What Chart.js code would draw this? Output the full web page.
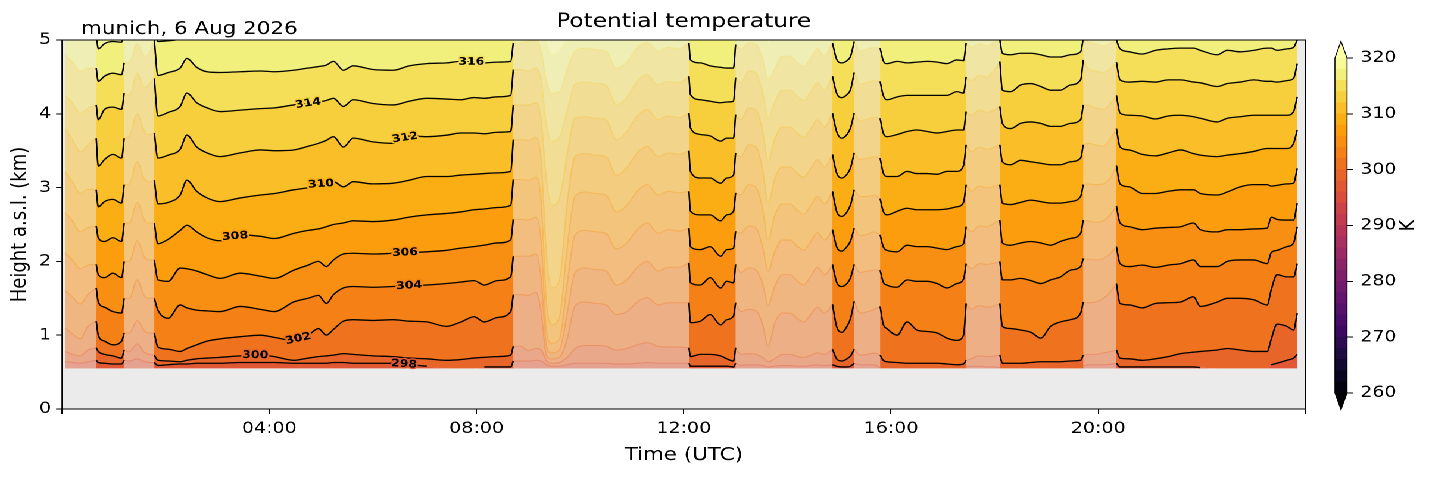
<!DOCTYPE html>
<html>
<head>
<meta charset="utf-8">
<script src="https://cdn.jsdelivr.net/npm/chart.js@4.4.0/dist/chart.umd.min.js"></script>
<style>
  html, body { margin: 0; padding: 0; background: #fff; overflow: hidden; }
  #stretch { position: relative; width: 1200px; height: 478px; transform: scaleX(1.190833); transform-origin: 0 0; }
  #main { position: absolute; left: 0; top: 0; }
  #cbar { position: absolute; left: 1110px; top: 0; }
</style>
</head>
<body>
<div id="stretch">
  <canvas id="main" width="1200" height="478"></canvas>
  <canvas id="cbar" width="100" height="478"></canvas>
</div>
<script>
// time of each profile (hours UTC)
let times = [
  0.06, 0.2, 0.35, 0.5,
  0.66, 0.70, 0.82, 0.98, 1.15, 1.2,
  1.3, 1.45, 1.6, 1.7,
  1.78, 1.85, 2.05, 2.28, 2.41, 2.6, 2.8, 3.05, 3.44, 3.83, 4.1, 4.47, 4.75, 4.95, 5.1, 5.24, 5.43, 5.62, 6.0, 6.39, 6.7, 7.04, 7.42, 7.7, 7.95, 8.15, 8.4, 8.66, 8.71,
  8.85, 9.0, 9.15, 9.25, 9.35, 9.45, 9.6, 9.75, 9.9, 10.1, 10.3, 10.5, 10.7, 10.9, 11.1, 11.3, 11.5, 11.7, 11.9,
  12.1, 12.13, 12.32, 12.51, 12.71, 12.83, 12.96, 13.0,
  13.1, 13.25, 13.4, 13.52, 13.63, 13.75, 13.9, 14.05, 14.2, 14.32, 14.45, 14.58, 14.72,
  14.87, 14.95, 15.05, 15.15, 15.22, 15.29,
  15.4, 15.55, 15.68,
  15.79, 15.85, 15.92, 16.12, 16.31, 16.5, 16.7, 16.89, 17.08, 17.27, 17.4, 17.45,
  17.55, 17.7, 17.85, 18.0,
  18.1, 18.15, 18.31, 18.5, 18.7, 18.89, 19.08, 19.27, 19.46, 19.66, 19.71,
  19.8, 19.95, 20.1, 20.25,
  20.35, 20.42, 20.6, 20.85, 21.1, 21.35, 21.59, 21.84, 21.97, 22.3, 22.49, 22.74, 23.0, 23.26, 23.34, 23.45, 23.64, 23.77, 23.84
];

// height (km) of each isentrope at those times
let h298 = [
  0.64, 0.63, 0.62, 0.64,
  0.66, 0.63, 0.62, 0.61, 0.61, 0.66,
  0.65, 0.68, 0.64, 0.63,
  0.63, 0.59, 0.60, 0.61, 0.61, 0.62, 0.62, 0.62, 0.63, 0.63, 0.63, 0.62, 0.62, 0.62, 0.62, 0.63, 0.63, 0.62, 0.62, 0.62, 0.60, 0.58, 0.55, 0.55, 0.55, 0.57, 0.57, 0.57, 0.65,
  0.65, 0.65, 0.66, 0.65, 0.60, 0.58, 0.58, 0.60, 0.62, 0.62, 0.62, 0.62, 0.61, 0.61, 0.62, 0.63, 0.62, 0.62, 0.62,
  0.62, 0.58, 0.58, 0.58, 0.58, 0.58, 0.57, 0.62,
  0.59, 0.60, 0.60, 0.59, 0.57, 0.58, 0.59, 0.59, 0.58, 0.58, 0.59, 0.60, 0.59,
  0.60, 0.58, 0.57, 0.57, 0.58, 0.62,
  0.60, 0.60, 0.60,
  0.56, 0.55, 0.55, 0.55, 0.55, 0.55, 0.55, 0.55, 0.55, 0.55, 0.55, 0.57,
  0.58, 0.58, 0.57, 0.57,
  0.56, 0.55, 0.55, 0.55, 0.55, 0.55, 0.55, 0.55, 0.55, 0.55, 0.58,
  0.60, 0.60, 0.60, 0.61,
  0.62, 0.57, 0.57, 0.57, 0.57, 0.57, 0.57, 0.57, 0.56, 0.55, 0.55, 0.55, 0.55, 0.55, 0.60, 0.62, 0.66, 0.69, 0.74
];
let h300 = [
  0.78, 0.74, 0.72, 0.80,
  0.83, 0.78, 0.74, 0.72, 0.69, 0.80,
  0.78, 0.88, 0.76, 0.74,
  0.73, 0.66, 0.65, 0.64, 0.66, 0.68, 0.69, 0.70, 0.72, 0.73, 0.71, 0.66, 0.69, 0.71, 0.72, 0.73, 0.75, 0.74, 0.72, 0.71, 0.69, 0.68, 0.66, 0.67, 0.69, 0.70, 0.71, 0.73, 0.85,
  0.85, 0.79, 0.82, 0.80, 0.65, 0.62, 0.63, 0.70, 0.82, 0.86, 0.86, 0.85, 0.80, 0.82, 0.87, 0.90, 0.85, 0.84, 0.84,
  0.83, 0.71, 0.74, 0.74, 0.72, 0.68, 0.65, 0.83,
  0.74, 0.75, 0.74, 0.70, 0.64, 0.68, 0.74, 0.74, 0.71, 0.70, 0.73, 0.76, 0.74,
  0.81, 0.68, 0.65, 0.68, 0.72, 0.81,
  0.73, 0.74, 0.76,
  0.73, 0.66, 0.64, 0.63, 0.62, 0.62, 0.62, 0.62, 0.61, 0.60, 0.61, 0.66,
  0.68, 0.72, 0.71, 0.72,
  0.73, 0.62, 0.62, 0.62, 0.63, 0.64, 0.64, 0.64, 0.65, 0.66, 0.73,
  0.74, 0.74, 0.76, 0.78,
  0.80, 0.69, 0.68, 0.66, 0.68, 0.71, 0.75, 0.77, 0.78, 0.80, 0.82, 0.80, 0.78, 0.78, 0.95, 1.15, 1.12, 1.07, 1.30
];
let h302 = [
  1.10, 1.02, 0.95, 1.12,
  1.19, 1.00, 0.92, 0.87, 0.92, 1.03,
  1.03, 1.20, 1.05, 1.03,
  1.03, 0.84, 0.81, 0.78, 0.82, 0.87, 0.92, 0.95, 0.98, 1.00, 0.97, 0.93, 1.00, 1.09, 1.00, 1.08, 1.19, 1.21, 1.20, 1.21, 1.19, 1.18, 1.12, 1.18, 1.25, 1.18, 1.24, 1.32, 1.55,
  1.55, 1.54, 1.58, 1.30, 0.72, 0.68, 0.70, 0.95, 1.40, 1.45, 1.43, 1.41, 1.28, 1.32, 1.45, 1.51, 1.41, 1.44, 1.44,
  1.44, 1.17, 1.19, 1.28, 1.14, 1.21, 1.26, 1.44,
  1.32, 1.35, 1.33, 1.15, 0.85, 1.15, 1.30, 1.30, 1.22, 1.18, 1.28, 1.38, 1.30,
  1.42, 1.12, 1.04, 1.12, 1.23, 1.46,
  1.30, 1.32, 1.35,
  1.39, 1.15, 1.09, 1.00, 1.18, 1.07, 1.05, 1.03, 0.96, 0.93, 1.00, 1.43,
  1.35, 1.40, 1.38, 1.40,
  1.43, 1.12, 1.09, 1.07, 1.04, 0.96, 1.12, 1.18, 1.21, 1.30, 1.45,
  1.44, 1.45, 1.50, 1.60,
  1.70, 1.43, 1.41, 1.37, 1.43, 1.44, 1.45, 1.52, 1.39, 1.45, 1.50, 1.50, 1.48, 1.41, 1.62, 1.82, 1.79, 1.79, 1.97
];
let h304 = [
  1.60, 1.52, 1.42, 1.55,
  1.64, 1.45, 1.38, 1.32, 1.30, 1.50,
  1.50, 1.75, 1.52, 1.50,
  1.50, 1.34, 1.23, 1.41, 1.37, 1.34, 1.33, 1.32, 1.39, 1.35, 1.32, 1.45, 1.50, 1.54, 1.43, 1.55, 1.64, 1.66, 1.65, 1.66, 1.67, 1.68, 1.70, 1.72, 1.74, 1.68, 1.74, 1.79, 2.07,
  2.07, 2.07, 2.10, 1.75, 0.85, 0.76, 0.80, 1.30, 1.85, 1.91, 1.89, 1.87, 1.68, 1.75, 1.92, 2.00, 1.87, 1.92, 1.92,
  1.98, 1.71, 1.68, 1.78, 1.64, 1.73, 1.71, 1.96,
  1.85, 1.91, 1.88, 1.70, 1.41, 1.65, 1.82, 1.82, 1.73, 1.68, 1.80, 1.92, 1.82,
  1.96, 1.72, 1.66, 1.70, 1.78, 1.96,
  1.85, 1.87, 1.88,
  1.88, 1.72, 1.68, 1.65, 1.75, 1.73, 1.73, 1.70, 1.64, 1.70, 1.76, 1.97,
  1.90, 1.97, 1.96, 1.98,
  2.00, 1.75, 1.75, 1.77, 1.74, 1.70, 1.75, 1.79, 1.88, 1.93, 2.04,
  2.03, 2.02, 2.04, 2.12,
  2.20, 1.97, 1.93, 1.95, 1.92, 1.95, 1.97, 2.02, 1.93, 1.93, 2.00, 2.02, 2.02, 1.97, 2.12, 2.15, 2.20, 2.25, 2.47
];
let h306 = [
  2.12, 2.02, 1.90, 1.95,
  1.96, 1.82, 1.78, 1.84, 1.78, 2.00,
  2.00, 2.28, 2.05, 2.02,
  2.02, 1.75, 1.73, 1.91, 1.90, 1.87, 1.82, 1.77, 1.84, 1.80, 1.77, 1.88, 1.95, 2.00, 1.93, 2.02, 2.10, 2.11, 2.10, 2.11, 2.12, 2.13, 2.15, 2.18, 2.20, 2.22, 2.25, 2.29, 2.57,
  2.57, 2.56, 2.60, 2.25, 1.05, 0.89, 0.95, 1.70, 2.36, 2.42, 2.40, 2.38, 2.17, 2.25, 2.43, 2.52, 2.38, 2.43, 2.41,
  2.45, 2.20, 2.16, 2.20, 2.07, 2.16, 2.18, 2.41,
  2.38, 2.48, 2.45, 2.20, 1.87, 2.12, 2.29, 2.29, 2.20, 2.15, 2.27, 2.39, 2.29,
  2.43, 2.20, 2.14, 2.20, 2.28, 2.45,
  2.35, 2.37, 2.40,
  2.36, 2.20, 2.15, 2.13, 2.22, 2.20, 2.20, 2.18, 2.16, 2.20, 2.24, 2.47,
  2.40, 2.48, 2.47, 2.52,
  2.56, 2.25, 2.22, 2.25, 2.27, 2.25, 2.22, 2.27, 2.31, 2.38, 2.56,
  2.55, 2.53, 2.55, 2.65,
  2.75, 2.52, 2.47, 2.43, 2.45, 2.46, 2.47, 2.52, 2.43, 2.40, 2.43, 2.43, 2.44, 2.45, 2.60, 2.57, 2.56, 2.56, 2.79
];
let h308 = [
  2.66, 2.55, 2.40, 2.46,
  2.48, 2.32, 2.27, 2.32, 2.27, 2.52,
  2.52, 2.80, 2.55, 2.52,
  2.52, 2.24, 2.30, 2.42, 2.49, 2.40, 2.32, 2.28, 2.36, 2.34, 2.31, 2.38, 2.42, 2.44, 2.47, 2.50, 2.52, 2.55, 2.54, 2.56, 2.60, 2.63, 2.65, 2.67, 2.70, 2.71, 2.73, 2.76, 3.11,
  3.11, 3.10, 3.14, 2.80, 1.45, 1.14, 1.25, 2.20, 2.88, 2.94, 2.92, 2.90, 2.67, 2.76, 2.95, 3.04, 2.90, 2.95, 2.93,
  2.95, 2.68, 2.63, 2.63, 2.55, 2.63, 2.68, 2.93,
  2.90, 3.04, 3.00, 2.72, 2.29, 2.61, 2.78, 2.78, 2.69, 2.64, 2.76, 2.88, 2.78,
  2.95, 2.68, 2.61, 2.67, 2.77, 2.97,
  2.88, 2.88, 2.90,
  2.85, 2.68, 2.63, 2.68, 2.72, 2.70, 2.70, 2.70, 2.71, 2.74, 2.80, 3.04,
  2.95, 3.02, 3.00, 3.02,
  3.04, 2.79, 2.77, 2.80, 2.83, 2.81, 2.79, 2.79, 2.81, 2.88, 3.04,
  3.05, 3.04, 3.05, 3.15,
  3.30, 3.05, 3.01, 2.92, 2.92, 2.95, 2.97, 2.97, 2.92, 2.90, 2.94, 3.01, 3.04, 3.04, 3.02, 3.03, 3.05, 3.06, 3.26
];
let h310 = [
  3.22, 3.08, 2.92, 2.98,
  2.97, 2.74, 2.81, 2.84, 2.79, 3.04,
  3.05, 3.35, 3.10, 3.08,
  3.10, 2.78, 2.80, 2.90, 3.10, 2.95, 2.86, 2.81, 2.86, 2.90, 2.92, 2.97, 3.00, 3.04, 3.06, 3.08, 3.01, 3.08, 3.05, 3.06, 3.10, 3.15, 3.15, 3.17, 3.18, 3.19, 3.20, 3.22, 3.65,
  3.65, 3.64, 3.68, 3.35, 2.10, 1.64, 1.75, 2.80, 3.42, 3.46, 3.44, 3.42, 3.17, 3.27, 3.47, 3.56, 3.42, 3.47, 3.45,
  3.50, 3.22, 3.13, 3.13, 3.06, 3.13, 3.17, 3.47,
  3.42, 3.58, 3.55, 3.25, 2.79, 3.11, 3.28, 3.28, 3.19, 3.14, 3.26, 3.38, 3.28,
  3.45, 3.20, 3.13, 3.18, 3.27, 3.47,
  3.38, 3.40, 3.42,
  3.40, 3.20, 3.15, 3.15, 3.22, 3.19, 3.19, 3.18, 3.22, 3.22, 3.30, 3.58,
  3.48, 3.55, 3.52, 3.55,
  3.58, 3.35, 3.31, 3.37, 3.35, 3.33, 3.31, 3.31, 3.35, 3.40, 3.58,
  3.60, 3.58, 3.56, 3.68,
  3.80, 3.55, 3.51, 3.45, 3.43, 3.47, 3.51, 3.46, 3.44, 3.42, 3.44, 3.46, 3.49, 3.53, 3.53, 3.53, 3.53, 3.60, 3.78
];
let h312 = [
  3.80, 3.65, 3.48, 3.58,
  3.67, 3.29, 3.38, 3.45, 3.40, 3.67,
  3.70, 4.00, 3.75, 3.72,
  3.74, 3.40, 3.44, 3.52, 3.71, 3.55, 3.47, 3.42, 3.47, 3.51, 3.50, 3.51, 3.56, 3.60, 3.64, 3.69, 3.55, 3.67, 3.62, 3.60, 3.70, 3.69, 3.71, 3.74, 3.74, 3.73, 3.75, 3.76, 4.12,
  4.12, 4.12, 4.15, 3.90, 3.10, 2.76, 2.85, 3.45, 3.94, 3.96, 3.94, 3.92, 3.65, 3.76, 3.97, 4.06, 3.92, 3.97, 3.95,
  4.01, 3.81, 3.72, 3.70, 3.63, 3.67, 3.67, 3.99,
  3.92, 4.08, 4.05, 3.78, 3.36, 3.65, 3.82, 3.82, 3.73, 3.68, 3.80, 3.92, 3.82,
  4.01, 3.76, 3.67, 3.72, 3.81, 4.01,
  3.90, 3.93, 3.95,
  3.94, 3.74, 3.69, 3.72, 3.76, 3.78, 3.76, 3.74, 3.76, 3.78, 3.78, 4.03,
  3.98, 4.05, 4.02, 4.06,
  4.10, 3.87, 3.80, 3.87, 3.89, 3.87, 3.83, 3.83, 3.87, 3.92, 4.12,
  4.12, 4.08, 4.06, 4.15,
  4.25, 4.01, 3.98, 3.97, 3.93, 3.97, 3.98, 3.96, 3.94, 3.89, 3.94, 3.96, 3.98, 3.98, 3.98, 3.98, 3.98, 4.03, 4.23
];
let h314 = [
  4.25, 4.15, 4.00, 4.08,
  4.12, 3.92, 4.06, 4.09, 4.06, 4.28,
  4.25, 4.55, 4.35, 4.42,
  4.48, 3.97, 4.02, 4.10, 4.28, 4.15, 4.08, 4.03, 4.05, 4.07, 4.08, 4.12, 4.14, 4.16, 4.18, 4.21, 4.10, 4.19, 4.14, 4.12, 4.17, 4.21, 4.20, 4.19, 4.22, 4.21, 4.23, 4.25, 4.60,
  4.60, 4.58, 4.62, 4.45, 3.85, 3.63, 3.68, 4.05, 4.40, 4.43, 4.41, 4.39, 4.12, 4.22, 4.44, 4.53, 4.39, 4.44, 4.42,
  4.51, 4.26, 4.19, 4.17, 4.15, 4.16, 4.17, 4.49,
  4.42, 4.58, 4.55, 4.30, 3.94, 4.15, 4.32, 4.32, 4.23, 4.18, 4.30, 4.42, 4.32,
  4.51, 4.28, 4.22, 4.26, 4.33, 4.56,
  4.40, 4.43, 4.45,
  4.44, 4.25, 4.19, 4.23, 4.25, 4.25, 4.25, 4.25, 4.25, 4.30, 4.28, 4.50,
  4.45, 4.52, 4.50, 4.60,
  4.71, 4.32, 4.30, 4.39, 4.41, 4.37, 4.32, 4.32, 4.39, 4.46, 4.73,
  4.62, 4.58, 4.56, 4.62,
  4.70, 4.46, 4.43, 4.44, 4.43, 4.46, 4.46, 4.43, 4.42, 4.37, 4.41, 4.43, 4.46, 4.44, 4.44, 4.43, 4.45, 4.48, 4.68
];
let h316 = [
  4.80, 4.70, 4.58, 4.62,
  4.62, 4.44, 4.51, 4.55, 4.53, 4.69,
  4.70, 4.95, 4.78, 4.85,
  5.00, 4.52, 4.56, 4.62, 4.75, 4.63, 4.57, 4.56, 4.57, 4.58, 4.57, 4.59, 4.62, 4.64, 4.66, 4.71, 4.59, 4.65, 4.60, 4.59, 4.65, 4.68, 4.69, 4.71, 4.70, 4.69, 4.70, 4.71, 4.96,
  4.96, 4.99, 5.00, 4.85, 4.45, 4.28, 4.30, 4.60, 4.85, 4.89, 4.87, 4.85, 4.62, 4.70, 4.90, 4.97, 4.85, 4.90, 4.88,
  4.96, 4.73, 4.69, 4.65, 4.63, 4.62, 4.62, 4.94,
  4.88, 4.96, 4.94, 4.75, 4.46, 4.60, 4.78, 4.78, 4.69, 4.64, 4.76, 4.88, 4.78,
  4.96, 4.74, 4.69, 4.72, 4.78, 4.98,
  4.85, 4.88, 4.90,
  4.89, 4.72, 4.68, 4.71, 4.69, 4.70, 4.71, 4.70, 4.68, 4.73, 4.72, 4.96,
  4.90, 4.95, 4.92, 4.97,
  5.00, 4.82, 4.80, 4.82, 4.82, 4.80, 4.77, 4.77, 4.80, 4.84, 5.02,
  4.98, 4.95, 4.92, 4.96,
  5.00, 4.88, 4.84, 4.81, 4.86, 4.88, 4.89, 4.89, 4.86, 4.80, 4.86, 4.84, 4.86, 4.89, 4.89, 4.86, 4.88, 4.90, 5.00
];
let h318 = [
  5.10, 5.05, 5.00, 5.05,
  5.10, 4.88, 4.95, 4.98, 4.97, 5.10,
  5.10, 5.30, 5.15, 5.15,
  5.20, 4.98, 4.99, 5.02, 5.15, 5.10, 5.10, 5.12, 5.15, 5.15, 5.15, 5.15, 5.15, 5.15, 5.18, 5.20, 5.15, 5.18, 5.15, 5.15, 5.18, 5.20, 5.20, 5.22, 5.22, 5.22, 5.22, 5.22, 5.30,
  5.25, 5.30, 5.30, 5.20, 4.95, 4.80, 4.85, 5.00, 5.15, 5.20, 5.20, 5.15, 5.05, 5.10, 5.20, 5.25, 5.15, 5.20, 5.20,
  5.30, 5.15, 5.15, 5.15, 5.15, 5.15, 5.15, 5.30,
  5.30, 5.40, 5.40, 5.20, 4.95, 5.05, 5.20, 5.20, 5.15, 5.10, 5.20, 5.30, 5.20,
  5.30, 5.10, 5.05, 5.10, 5.15, 5.30,
  5.30, 5.30, 5.30,
  5.30, 5.20, 5.20, 5.20, 5.20, 5.20, 5.20, 5.20, 5.20, 5.20, 5.20, 5.30,
  5.30, 5.30, 5.30, 5.30,
  5.30, 5.25, 5.25, 5.25, 5.25, 5.25, 5.25, 5.25, 5.25, 5.25, 5.30,
  5.30, 5.30, 5.30, 5.30,
  5.30, 5.25, 5.25, 5.25, 5.25, 5.25, 5.25, 5.25, 5.25, 5.25, 5.25, 5.25, 5.25, 5.25, 5.25, 5.25, 5.25, 5.25, 5.30
];

let levels = [298, 300, 302, 304, 306, 308, 310, 312, 314, 316, 318];
let levelHeights = [h298, h300, h302, h304, h306, h308, h310, h312, h314, h316, h318];

// low quality periods, shown faded
let maskedSpans = [[0, 0.66], [1.2, 1.78], [8.71, 12.1], [13.0, 14.87], [15.29, 15.79], [17.45, 18.1], [19.71, 20.35]];
let dataBottom = 0.55;

let timeTicks = [0, 4, 8, 12, 16, 20, 24];
let timeTickLabels = ['', '04:00', '08:00', '12:00', '16:00', '20:00', ''];
let heightTicks = [0, 1, 2, 3, 4, 5];

let labelLevels = [316, 314, 312, 310, 308, 306, 304, 302, 300, 298];
let labelTimes = [7.9, 4.75, 6.62, 5.0, 3.34, 6.62, 6.7, 4.56, 3.73, 6.6];

let cbarLevels = [260, 262, 264, 266, 268, 270, 272, 274, 276, 278, 280, 282, 284, 286, 288, 290,
                  292, 294, 296, 298, 300, 302, 304, 306, 308, 310, 312, 314, 316, 318, 320];
let cbarTicks = [260, 270, 280, 290, 300, 310, 320];

levelHeights.forEach((arr, i) => {
    if (arr.length !== times.length) throw new Error('level ' + levels[i] + ' has ' + arr.length + ' values, expected ' + times.length);
});

Chart.defaults.font.family = "'DejaVu Sans', sans-serif";
Chart.defaults.color = '#000';

// inferno colour map, as [position, colour]
let infernoStops = [
    [0.0, '#000004'], [0.1, '#160b39'], [0.2, '#420a68'], [0.3, '#6a176e'], [0.4, '#932667'],
    [0.5, '#bc3754'], [0.6, '#dd513a'], [0.7, '#f37819'], [0.8, '#fca50a'], [0.9, '#f6d746'],
    [0.95, '#f2f07c'], [1.0, '#fcffa4']
];

function hexToRgb(hex) {
    return [1, 3, 5].map(i => parseInt(hex.substr(i, 2), 16));
}

function inferno(f) {
    f = Math.min(1, Math.max(0, f));
    let i = 0;
    while (i < infernoStops.length - 2 && f > infernoStops[i + 1][0]) i++;
    let [p0, c0] = infernoStops[i];
    let [p1, c1] = infernoStops[i + 1];
    let a = hexToRgb(c0), b = hexToRgb(c1);
    let k = (f - p0) / (p1 - p0);
    return [0, 1, 2].map(j => Math.round(a[j] + (b[j] - a[j]) * k));
}

function bandColor(lo, hi, alpha) {
    let c = inferno(((lo + hi) / 2 - 260) / 60);
    if (alpha === undefined) return 'rgb(' + c.join(',') + ')';
    return 'rgba(' + c.join(',') + ',' + alpha + ')';
}

function insideMask(t) {
    return maskedSpans.some(s => t > s[0] && t < s[1]);
}

function onMask(t) {
    return maskedSpans.some(s => t >= s[0] && t <= s[1]);
}

function heightAt(arr, t) {
    for (let i = 1; i < times.length; i++) {
        if (times[i] >= t) {
            let k = (t - times[i - 1]) / (times[i] - times[i - 1]);
            return arr[i - 1] + (arr[i] - arr[i - 1]) * k;
        }
    }
    return arr[arr.length - 1];
}

let datasets = [];

// filled bands between isentropes
for (let i = 0; i < levels.length; i++) {
    datasets.push({
        data: times.map((t, j) => ({ x: t, y: levelHeights[i][j] })),
        fill: i == 0 ? { value: dataBottom } : '-1',
        backgroundColor: bandColor(levels[i] - 2, levels[i]),
        borderWidth: 0,
        order: 3
    });
}
datasets.push({
    data: times.map((t, j) => ({ x: t, y: h318[j] })),
    fill: 'end',
    backgroundColor: bandColor(318, 320),
    borderWidth: 0,
    order: 3
});

// faint band edges inside the faded periods
for (let i = 0; i < levels.length; i++) {
    datasets.push({
        data: times.map((t, j) => ({ x: t, y: onMask(t) ? levelHeights[i][j] : null })),
        fill: false,
        borderColor: bandColor(levels[i] - 2, levels[i], 0.4),
        borderWidth: 1,
        order: 2
    });
}

// black contour lines
for (let i = 0; i < levels.length; i++) {
    datasets.push({
        data: times.map((t, j) => {
            let h = levelHeights[i][j];
            return { x: t, y: (insideMask(t) || h <= dataBottom) ? null : h };
        }),
        fill: false,
        borderColor: '#000',
        borderWidth: 1.3,
        order: 1
    });
}

let shadeDone = false;
let maskShade = {
    id: 'maskShade',
    beforeDatasetsDraw(chart) {
        let { ctx, chartArea: a } = chart;
        ctx.save();
        ctx.fillStyle = '#ebebeb';
        ctx.fillRect(a.left, a.top, a.width, a.height);
        ctx.restore();
        shadeDone = false;
    },
    beforeDatasetDraw(chart, args) {
        if (shadeDone || chart.data.datasets[args.index].order === 3) return;
        shadeDone = true;
        let { ctx, scales: { x, y } } = chart;
        let t0 = times[0], t1 = times[times.length - 1];
        ctx.save();
        ctx.fillStyle = 'rgba(235,235,235,0.5)';
        maskedSpans.forEach(s => {
            let xa = x.getPixelForValue(Math.max(s[0], t0));
            let xb = x.getPixelForValue(Math.min(s[1], t1));
            let ya = y.getPixelForValue(5);
            let yb = y.getPixelForValue(dataBottom);
            ctx.fillRect(xa, ya, xb - xa, yb - ya);
        });
        ctx.restore();
    }
};

let contourLabels = {
    id: 'contourLabels',
    afterDatasetsDraw(chart) {
        let { ctx, scales: { x, y } } = chart;
        ctx.save();
        ctx.font = 'bold 10.5px "DejaVu Sans"';
        ctx.textAlign = 'center';
        ctx.textBaseline = 'middle';
        ctx.lineJoin = 'round';
        for (let i = 0; i < labelLevels.length; i++) {
            let lev = labelLevels[i], t = labelTimes[i];
            let arr = levelHeights[levels.indexOf(lev)];
            let px = x.getPixelForValue(t);
            let py = y.getPixelForValue(heightAt(arr, t));
            let dx = x.getPixelForValue(t + 0.4) - x.getPixelForValue(t - 0.4);
            let dy = y.getPixelForValue(heightAt(arr, t + 0.4)) - y.getPixelForValue(heightAt(arr, t - 0.4));
            ctx.save();
            ctx.translate(px, py);
            ctx.rotate(Math.atan2(dy, dx));
            ctx.lineWidth = 3;
            ctx.strokeStyle = bandColor(lev - 2, lev);
            ctx.strokeText(String(lev), 0, 0);
            ctx.fillStyle = '#000';
            ctx.fillText(String(lev), 0, 0);
            ctx.restore();
        }
        ctx.restore();
    }
};

let frameAndNote = {
    id: 'frameAndNote',
    afterDraw(chart) {
        let { ctx, chartArea: a } = chart;
        ctx.save();
        ctx.strokeStyle = '#000';
        ctx.lineWidth = 1;
        ctx.strokeRect(a.left, a.top, a.width, a.height);
        ctx.font = '18px "DejaVu Sans"';
        ctx.fillStyle = '#000';
        ctx.textAlign = 'left';
        ctx.textBaseline = 'alphabetic';
        ctx.fillText('munich, 6 Aug 2026', 68, 34);
        ctx.restore();
    }
};

new Chart(document.getElementById('main'), {
    type: 'line',
    data: { datasets: datasets },
    options: {
        responsive: false,
        devicePixelRatio: 2,
        animation: false,
        events: [],
        layout: { padding: { left: 0, right: 103.7, top: 0, bottom: 0 } },
        elements: {
            point: { radius: 0 },
            line: { cubicInterpolationMode: 'monotone' }
        },
        plugins: {
            legend: { display: false },
            tooltip: { enabled: false },
            title: {
                display: true,
                text: 'Potential temperature',
                fullSize: false,
                color: '#000',
                font: { size: 19.5, weight: 'normal' },
                padding: { top: 10, bottom: 6.6 }
            }
        },
        scales: {
            x: {
                type: 'linear',
                min: 0,
                max: 24,
                afterBuildTicks: s => { s.ticks = timeTicks.map(v => ({ value: v })); },
                afterFit: s => { s.height = 69; },
                ticks: {
                    autoSkip: false,
                    maxRotation: 0,
                    padding: 5,
                    font: { size: 16 },
                    color: '#000',
                    callback: (v, i) => timeTickLabels[i]
                },
                grid: { drawOnChartArea: false, tickLength: 5, color: '#000', lineWidth: 1 },
                border: { display: false },
                title: { display: true, text: 'Time (UTC)', color: '#000', font: { size: 18 }, padding: { top: 0, bottom: 12 } }
            },
            y: {
                min: 0,
                max: 5,
                afterBuildTicks: s => { s.ticks = heightTicks.map(v => ({ value: v })); },
                afterFit: s => { s.width = 52.1; },
                ticks: { padding: 4, font: { size: 16 }, color: '#000' },
                grid: { drawOnChartArea: false, tickLength: 5, color: '#000', lineWidth: 1 },
                border: { display: false },
                title: { display: true, text: 'Height a.s.l. (km)', color: '#000', font: { size: 18 }, padding: { top: 6, bottom: 0 } }
            }
        }
    },
    plugins: [maskShade, contourLabels, frameAndNote]
});

// colour bar
let cbarDatasets = [];
for (let i = 0; i < cbarLevels.length - 1; i++) {
    cbarDatasets.push({
        data: [[cbarLevels[i], cbarLevels[i + 1]]],
        backgroundColor: bandColor(cbarLevels[i], cbarLevels[i + 1]),
        borderWidth: 0,
        grouped: false,
        barPercentage: 1,
        categoryPercentage: 1
    });
}

let cbarExtras = {
    id: 'cbarExtras',
    afterDatasetsDraw(chart) {
        let { ctx, chartArea: a, scales: { y } } = chart;
        let top = y.getPixelForValue(cbarLevels[cbarLevels.length - 1]);
        let bot = y.getPixelForValue(cbarLevels[0]);
        let ext = (bot - top) * 0.05;
        let cx = (a.left + a.right) / 2;
        ctx.save();
        ctx.fillStyle = 'rgb(' + inferno(1).join(',') + ')';
        ctx.beginPath();
        ctx.moveTo(a.left, top); ctx.lineTo(cx, top - ext); ctx.lineTo(a.right, top); ctx.closePath();
        ctx.fill();
        ctx.fillStyle = 'rgb(' + inferno(0).join(',') + ')';
        ctx.beginPath();
        ctx.moveTo(a.left, bot); ctx.lineTo(cx, bot + ext); ctx.lineTo(a.right, bot); ctx.closePath();
        ctx.fill();
        ctx.strokeStyle = '#000';
        ctx.lineWidth = 0.8;
        ctx.beginPath();
        ctx.moveTo(a.left, top); ctx.lineTo(cx, top - ext); ctx.lineTo(a.right, top);
        ctx.lineTo(a.right, bot); ctx.lineTo(cx, bot + ext); ctx.lineTo(a.left, bot);
        ctx.closePath();
        ctx.stroke();
        ctx.translate(73, (top + bot) / 2);
        ctx.rotate(-Math.PI / 2);
        ctx.font = '18px "DejaVu Sans"';
        ctx.fillStyle = '#000';
        ctx.textAlign = 'center';
        ctx.textBaseline = 'middle';
        ctx.fillText('K', 0, 0);
        ctx.restore();
    }
};

new Chart(document.getElementById('cbar'), {
    type: 'bar',
    data: { labels: [''], datasets: cbarDatasets },
    options: {
        responsive: false,
        devicePixelRatio: 2,
        animation: false,
        events: [],
        layout: { padding: { left: 11, right: 0, top: 58, bottom: 85 } },
        plugins: { legend: { display: false }, tooltip: { enabled: false } },
        scales: {
            x: { display: false },
            y: {
                position: 'right',
                min: 260,
                max: 320,
                afterBuildTicks: s => { s.ticks = cbarTicks.map(v => ({ value: v })); },
                afterFit: s => { s.width = 78.8; },
                ticks: { padding: 6, font: { size: 16 }, color: '#000' },
                grid: { drawOnChartArea: false, tickLength: 5, color: '#000', lineWidth: 1 },
                border: { display: false }
            }
        }
    },
    plugins: [cbarExtras]
});
</script>
</body>
</html>
